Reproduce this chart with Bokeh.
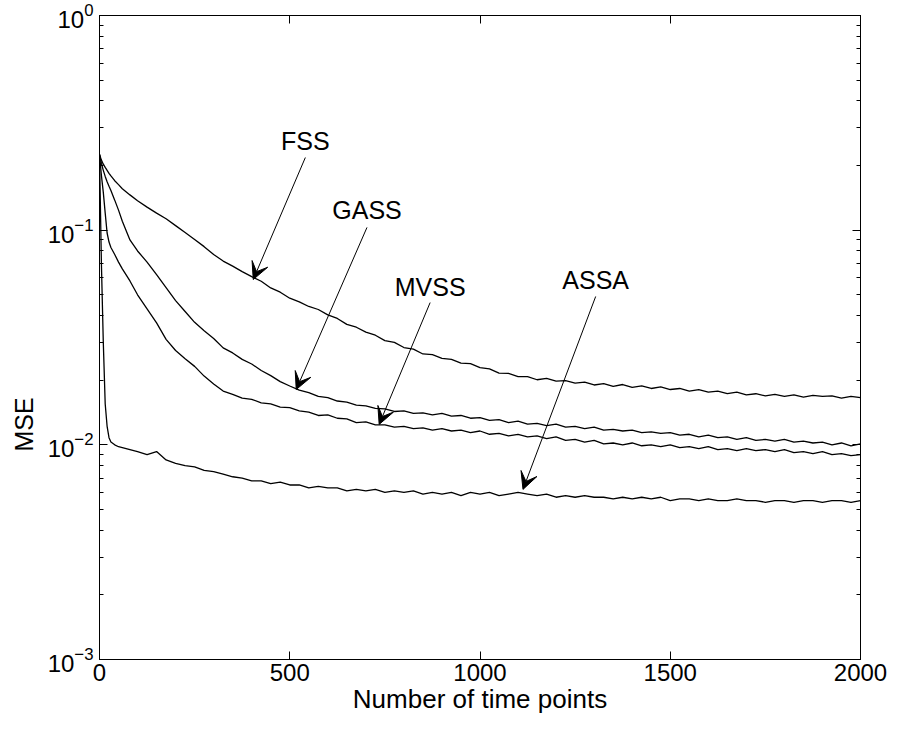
from bokeh.plotting import figure
from bokeh.models import (LinearAxis, LogAxis, LogTicker, FixedTicker, Label,
                          Arrow, VeeHead, ColumnDataSource, Title,
                          CustomJSTickFormatter, CustomLabelingPolicy)
from bokeh.embed import file_html
from bokeh.resources import INLINE

# ---------------- data ----------------
t_early = [0, 5, 10, 15, 20, 25, 30, 40, 50, 60, 80, 100, 125, 150, 175]
t_late = list(range(200, 2001, 25))
t = t_early + t_late

fss = [0.225, 0.212, 0.203, 0.196, 0.190, 0.184, 0.179, 0.170, 0.163, 0.156,
       0.146, 0.137, 0.128, 0.120, 0.113,
       0.105, 0.0975, 0.0905, 0.0838, 0.0770, 0.0718, 0.0680, 0.0641, 0.0608, 0.0578,
       0.0538, 0.0514, 0.0482, 0.0463, 0.0441, 0.0427, 0.0403, 0.0388, 0.0364, 0.0353,
       0.0335, 0.0324, 0.0306, 0.0300, 0.0284, 0.0279, 0.0265, 0.0263, 0.0253, 0.0250,
       0.0240, 0.0239, 0.0229, 0.0226, 0.0216, 0.0215, 0.0208, 0.0208, 0.0201, 0.0204,
       0.0198, 0.0199, 0.0194, 0.0196, 0.0190, 0.0193, 0.0187, 0.0191, 0.0185, 0.0188,
       0.0183, 0.0186, 0.0181, 0.0183, 0.0178, 0.0181, 0.0176, 0.0178, 0.0173, 0.0176,
       0.0171, 0.0173, 0.0169, 0.0172, 0.0168, 0.0171, 0.0167, 0.0170, 0.0168, 0.0169,
       0.0165, 0.0168, 0.0166]

gass = [0.225, 0.205, 0.190, 0.178, 0.168, 0.160, 0.153, 0.138, 0.124, 0.110,
        0.090, 0.080, 0.071, 0.062, 0.054,
        0.0470, 0.0418, 0.0372, 0.0340, 0.0313, 0.0283, 0.0268, 0.0250, 0.0238, 0.0222,
        0.0210, 0.0197, 0.0188, 0.0180, 0.0175, 0.0168, 0.0166, 0.0160, 0.0158, 0.0153,
        0.0152, 0.0148, 0.0147, 0.0143, 0.0144, 0.0140, 0.0141, 0.0138, 0.0140, 0.0136,
        0.0137, 0.0133, 0.0134, 0.0130, 0.0131, 0.0127, 0.0129, 0.0125, 0.0126, 0.0123,
        0.0125, 0.0121, 0.0122, 0.0119, 0.0121, 0.0117, 0.0118, 0.0116, 0.0117, 0.0114,
        0.0115, 0.0113, 0.0114, 0.0111, 0.0112, 0.0109, 0.0111, 0.0108, 0.0109, 0.0106,
        0.0108, 0.0105, 0.0106, 0.0104, 0.0106, 0.0103, 0.0104, 0.0102, 0.0103, 0.0100,
        0.0102, 0.0099, 0.0101]

mvss = [0.225, 0.180, 0.150, 0.120, 0.097, 0.088, 0.083, 0.077, 0.071, 0.066,
        0.058, 0.050, 0.043, 0.037, 0.031,
        0.0275, 0.0252, 0.0232, 0.0209, 0.0192, 0.0178, 0.0172, 0.0165, 0.0163, 0.0157,
        0.0155, 0.0150, 0.0149, 0.0144, 0.0142, 0.0137, 0.0138, 0.0133, 0.0132, 0.0127,
        0.0128, 0.0124, 0.0124, 0.0121, 0.0122, 0.0119, 0.0120, 0.0117, 0.0119, 0.0116,
        0.0117, 0.0114, 0.0116, 0.0112, 0.0113, 0.0110, 0.0112, 0.0109, 0.0110, 0.0107,
        0.0109, 0.0105, 0.0106, 0.0103, 0.0105, 0.0101, 0.0102, 0.0100, 0.0102, 0.0099,
        0.0100, 0.0098, 0.0100, 0.0097, 0.0098, 0.0096, 0.0098, 0.0095, 0.0096, 0.0094,
        0.0096, 0.0094, 0.0095, 0.0093, 0.0095, 0.0092, 0.0093, 0.0091, 0.0093, 0.0090,
        0.0091, 0.0089, 0.0090]

assa = [0.225, 0.070, 0.030, 0.0155, 0.0122, 0.0108, 0.0103, 0.0100, 0.0098,
        0.0097, 0.0095, 0.0093, 0.0090, 0.0093, 0.0085,
        0.0082, 0.0080, 0.0079, 0.0076, 0.0075, 0.0073, 0.0071, 0.0070, 0.0068, 0.0068,
        0.0066, 0.0067, 0.0065, 0.0065, 0.0063, 0.0064, 0.0063, 0.0063, 0.0061, 0.0062,
        0.0061, 0.0062, 0.0060, 0.0061, 0.0060, 0.0061, 0.0059, 0.0060, 0.0059, 0.0060,
        0.0058, 0.0060, 0.0059, 0.0060, 0.0058, 0.0059, 0.0060, 0.0059, 0.0058, 0.0059,
        0.0057, 0.0058, 0.0057, 0.0058, 0.0057, 0.0057, 0.0056, 0.0057, 0.0056, 0.0057,
        0.0056, 0.0057, 0.0055, 0.0056, 0.0056, 0.0055, 0.0056, 0.0055, 0.0055, 0.0056,
        0.0055, 0.0055, 0.0054, 0.0055, 0.0055, 0.0054, 0.0055, 0.0055, 0.0054, 0.0055,
        0.0055, 0.0054, 0.0055]

series_names = ["FSS", "GASS", "MVSS", "ASSA"]
series_values = [fss, gass, mvss, assa]
for _v in series_values:
    assert len(_v) == len(t), (len(_v), len(t))

# annotation positions (data coords): label centre, arrow start, arrow tip
label_pos = [(541, 0.259), (703, 0.1235), (869, 0.0541), (1304, 0.0583)]
arrow_start = [(541, 0.218), (703, 0.103), (869, 0.046), (1304, 0.0491)]
arrow_tip = [(404, 0.0589), (517, 0.0181), (735, 0.01245), (1113, 0.0062)]

x_ticks = [0, 500, 1000, 1500, 2000]
x_label = "Number of time points"
y_label = "MSE"

FONT = "Liberation Sans"
FS = "25px"
TICK_FS = "24px"

# ---------------- figure ----------------
p = figure(width=887, height=721, y_axis_type="log",
           x_range=(0, 2000), y_range=(1e-3, 1),
           output_backend="svg", toolbar_location=None,
           min_border_left=98, min_border_right=27,
           min_border_top=15, min_border_bottom=62)
p.grid.visible = False
p.outline_line_color = "black"
p.outline_line_width = 1
p.background_fill_color = "white"
p.border_fill_color = "white"

for ax in p.xaxis:
    ax.ticker = FixedTicker(ticks=x_ticks)
    ax.major_tick_in = 8
    ax.major_tick_out = 0
    ax.minor_tick_in = 0
    ax.minor_tick_out = 0
    ax.major_label_text_font = FONT
    ax.major_label_text_font_size = TICK_FS
    ax.major_label_text_color = "black"
    ax.major_label_standoff = 4
    ax.axis_line_color = "black"
    ax.axis_label = x_label
    ax.axis_label_text_font = FONT
    ax.axis_label_text_font_size = "26px"
    ax.axis_label_text_font_style = "normal"
    ax.axis_label_text_color = "black"
    ax.axis_label_standoff = 0

for ax in p.yaxis:
    ax.ticker = LogTicker(num_minor_ticks=10)
    ax.major_tick_in = 8
    ax.major_tick_out = 0
    ax.minor_tick_in = 4
    ax.minor_tick_out = 0
    ax.major_label_text_font = FONT
    ax.major_label_text_font_size = TICK_FS
    ax.major_label_text_color = "black"
    ax.major_label_standoff = 6
    ax.axis_line_color = "black"

top_ax = LinearAxis(ticker=FixedTicker(ticks=x_ticks), major_tick_in=8,
                    major_tick_out=0, minor_tick_in=0, minor_tick_out=0,
                    formatter=CustomJSTickFormatter(code="return ''"),
                    major_label_policy=CustomLabelingPolicy(code="""
for (const i of indices)
  indices.unset(i)
"""),
                    major_label_text_font_size="1px", major_label_standoff=0,
                    axis_line_color="black")
p.add_layout(top_ax, "above")
right_ax = LogAxis(ticker=LogTicker(num_minor_ticks=10), major_tick_in=8,
                   major_tick_out=0, minor_tick_in=4, minor_tick_out=0,
                   formatter=CustomJSTickFormatter(code="return ''"),
                   major_label_policy=CustomLabelingPolicy(code="""
for (const i of indices)
  indices.unset(i)
"""),
                   major_label_text_font_size="1px", major_label_standoff=0,
                   axis_line_color="black")
p.add_layout(right_ax, "right")

# y-axis title, shifted down along the axis like the reference
p.add_layout(Title(text=y_label, align="left", offset=208, standoff=14,
                   text_font=FONT, text_font_size=FS,
                   text_font_style="normal", text_color="black"), "left")

for name, vals in zip(series_names, series_values):
    src = ColumnDataSource(dict(t=t, v=vals))
    p.line("t", "v", source=src, line_color="black", line_width=1.3)

for name, (lx, ly), (sx, sy), (ex, ey) in zip(series_names, label_pos,
                                               arrow_start, arrow_tip):
    p.add_layout(Label(x=lx, y=ly, text=name, text_align="center",
                       text_baseline="middle", text_font=FONT,
                       text_font_size=FS, text_color="black"))
    p.add_layout(Arrow(end=VeeHead(size=17, fill_color="black",
                                   line_color="black", line_width=1),
                       x_start=sx, y_start=sy, x_end=ex, y_end=ey,
                       line_color="black", line_width=1))

open("out.html", "w").write(file_html(p, INLINE))
